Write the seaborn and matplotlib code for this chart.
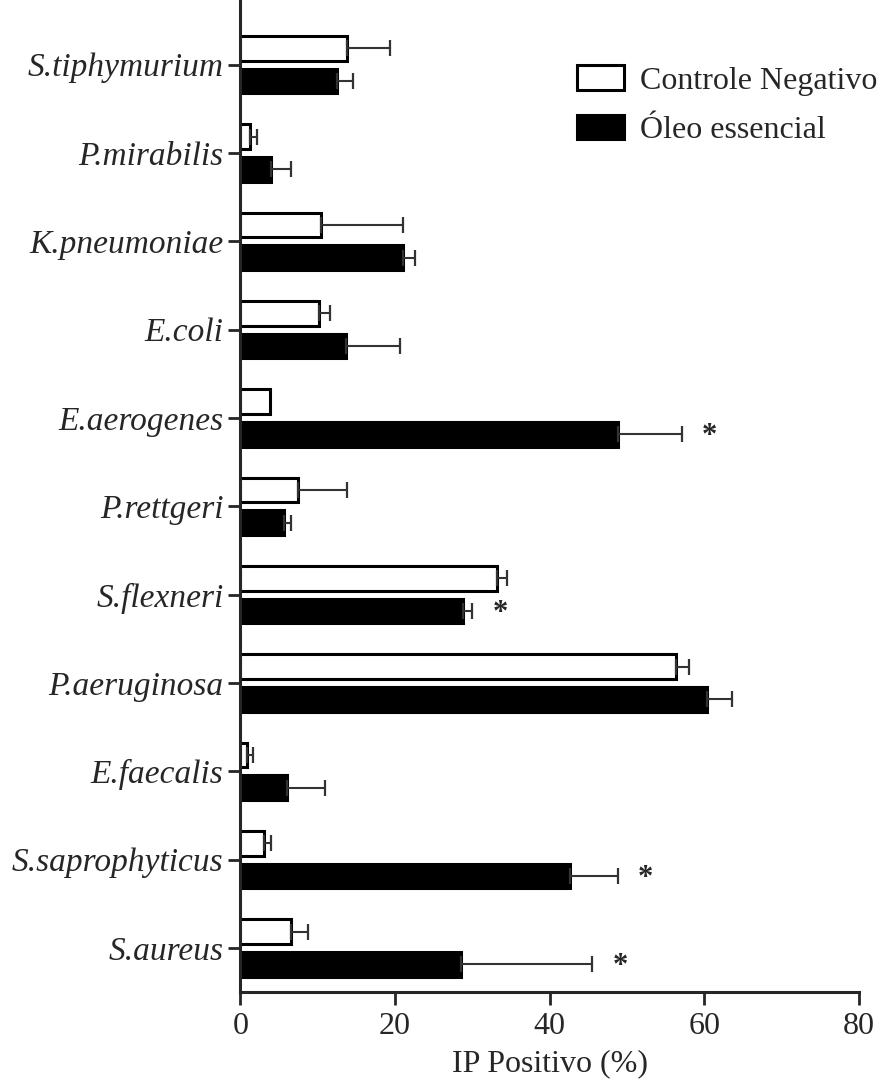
import pandas as pd
import matplotlib.pyplot as plt
import seaborn as sns
import numpy as np
from matplotlib.patches import Patch

species = ['S.tiphymurium', 'P.mirabilis', 'K.pneumoniae', 'E.coli', 'E.aerogenes',
           'P.rettgeri', 'S.flexneri', 'P.aeruginosa', 'E.faecalis',
           'S.saprophyticus', 'S.aureus']
controle = [13.8, 1.2, 10.5, 10.2, 3.9, 7.4, 33.2, 56.4, 0.9, 3.1, 6.5]
controle_err = [5.6, 1.0, 10.5, 1.4, 0.0, 6.4, 1.3, 1.6, 0.7, 0.9, 2.2]
oleo = [12.5, 4.0, 21.0, 13.7, 48.8, 5.6, 28.8, 60.4, 6.1, 42.6, 28.5]
oleo_err = [2.1, 2.6, 1.6, 6.9, 8.3, 1.0, 1.2, 3.2, 4.9, 6.2, 17.0]
significant = ['E.aerogenes', 'S.flexneri', 'S.saprophyticus', 'S.aureus']
groups = ['Controle Negativo', 'Óleo essencial']

df = pd.DataFrame({
    'species': species * 2,
    'value': controle + oleo,
    'err': controle_err + oleo_err,
    'group': [groups[0]] * len(species) + [groups[1]] * len(species),
})

sns.set_style('ticks')
plt.rcParams['font.family'] = ['Liberation Serif', 'DejaVu Serif']

fig = plt.figure(figsize=(8.9, 10.89), dpi=100)
ax = fig.add_axes([0.27, 0.089, 0.695, 0.91])

palette = {groups[0]: 'white', groups[1]: 'black'}
sns.barplot(data=df, y='species', x='value', hue='group', order=species,
            hue_order=groups, palette=palette, edgecolor='black', linewidth=2.2,
            width=0.74, gap=0.25, orient='h', errorbar=None, legend=False, ax=ax)

# one-sided error bars, drawn from each bar's own geometry
for container, grp in zip(ax.containers, groups):
    sub = df[df['group'] == grp].set_index('species').loc[species]
    ys = [p.get_y() + p.get_height() / 2 for p in container.patches]
    xs = [p.get_width() for p in container.patches]
    errs = sub['err'].values
    mask = errs > 0
    ax.errorbar(np.array(xs)[mask], np.array(ys)[mask],
                xerr=[np.zeros(mask.sum()), errs[mask]],
                fmt='none', ecolor='#333333', elinewidth=1.5, capsize=6, capthick=1.6)
    if grp == groups[1]:
        for sp, y, x, e in zip(species, ys, xs, errs):
            if sp in significant:
                ax.text(x + e + 3.6, y + 0.03, '*', fontsize=22, ha='center', va='center',
                        fontweight='bold')

ax.set_xlim(0, 80)
ax.set_ylim(10.5, -0.72)
ax.set_xticks([0, 20, 40, 60, 80])
ax.set_xlabel('IP Positivo (%)', fontsize=23, labelpad=6)
ax.set_ylabel('')
ax.tick_params(axis='x', labelsize=23, width=2, length=9, pad=5)
ax.tick_params(axis='y', labelsize=24, width=2, length=9, pad=3)
for lbl in ax.get_yticklabels():
    lbl.set_fontstyle('italic')
for s in ['left', 'bottom']:
    ax.spines[s].set_linewidth(2.2)
sns.despine(ax=ax)

handles = [Patch(facecolor='white', edgecolor='black', linewidth=2.2),
           Patch(facecolor='black', edgecolor='black', linewidth=2.2)]
ax.legend(handles, groups, loc='upper right', bbox_to_anchor=(1.05, 0.948),
          borderaxespad=0, frameon=False, fontsize=23, handlelength=1.45,
          handleheight=0.8, handletextpad=0.5, labelspacing=0.6)

plt.savefig('out.png', dpi=100)
